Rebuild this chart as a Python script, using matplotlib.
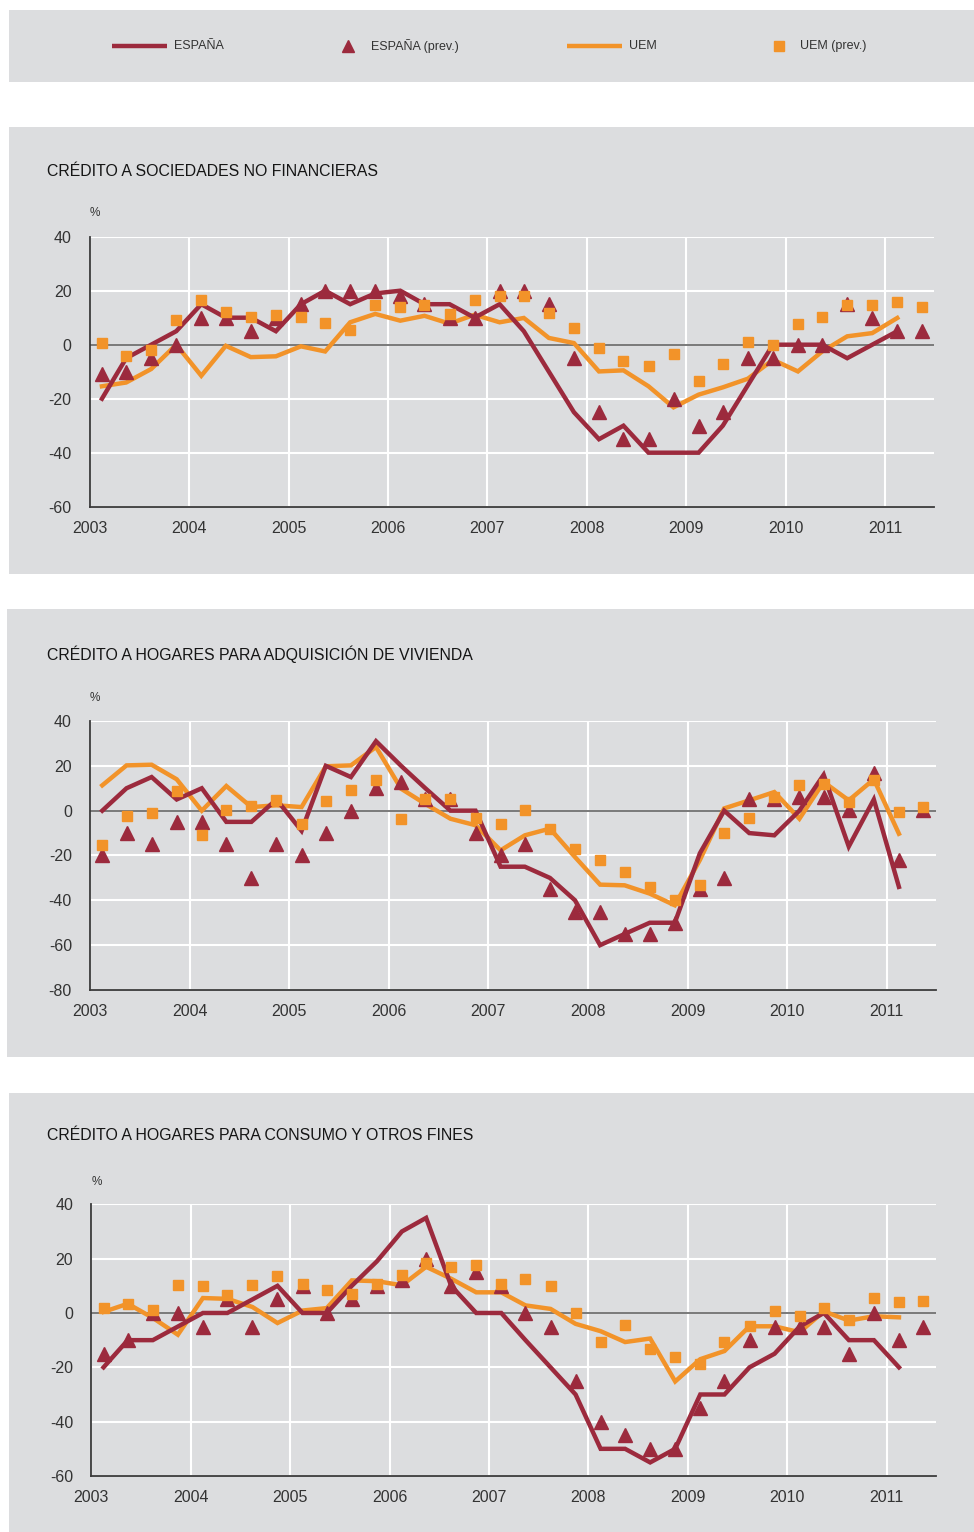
import numpy as np
import pandas as pd
import matplotlib
matplotlib.use("Agg")
from matplotlib import pyplot as plt
from matplotlib.patches import Rectangle
from matplotlib.lines import Line2D
import matplotlib.dates as mdates

plt.rcParams['font.family'] = ['Liberation Sans', 'DejaVu Sans']
plt.rcParams['axes.unicode_minus'] = False

# quarterly dates (mid-quarter points)
dates = pd.date_range("2003-02-15", periods=34, freq=pd.DateOffset(months=3))

# CREDITO A SOCIEDADES NO FINANCIERAS
soc_esp = [-20, -5, 0, 5, 15, 10, 10, 5, 15, 20, 15, 19, 20, 15, 15, 10, 15,
           5, -10, -25, -35, -30, -40, -40, -40, -30, -15, 0, 0, 0, -5, 0, 5]
soc_esp_prev = [-11, -10, -5, 0, 10, 10, 5, 10, 15, 20, 20, 20, 18, 15, 10, 10, 20,
                20, 15, -5, -25, -35, -35, -20, -30, -25, -5, -5, 0, 0, 15, 10, 5, 5]
soc_uem = [-15.4, -14, -9, 0, -11.5, -0.4, -4.6, -4.3, -0.6, -2.5, 8.3, 11.4, 8.9, 10.7, 7.8, 11.1, 8.3,
           9.9, 2.5, 0.6, -9.9, -9.5, -15.4, -23.2, -18.5, -15.8, -12.6, -5.6, -9.9, -2.5, 3.1, 4.3, 9.9]
soc_uem_prev = [0.6, -4.3, -1.9, 9, 16.7, 12, 10.2, 10.9, 10.2, 8, 5.6, 14.6, 13.8, 14.8, 11.5, 16.7, 18.1,
                17.9, 11.7, 6.2, -1.2, -6.2, -7.8, -3.3, -13.6, -7, 1, 0, 7.7, 10.1, 14.8, 14.8, 15.7, 13.8]

# CREDITO A HOGARES PARA ADQUISICION DE VIVIENDA
viv_esp = [0, 10, 15, 5, 10, -5, -5, 5, -9, 20, 15, 31, 20, 10, 0, 0, -25,
           -25, -30, -40, -60, -55, -50, -50, -19, 0, -10, -11, 0, 16, -16, 5, -34]
viv_esp_prev = [-20, -10, -15, -5, -5, -15, -30, -15, -20, -10, 0, 10, 13, 5, 5, -10, -20,
                -15, -35, -45, -45, -55, -55, -50, -35, -30, 5, 5, 6, 6, 0.5, 17, -22, 0.5]
viv_uem = [11.3, 20.2, 20.5, 14, 0, 11, 1.6, 2.4, 1.6, 19.8, 20.2, 28.4, 9.8, 3, -3.6, -6.5, -17.7,
           -11, -8, -20.7, -33, -33.3, -37, -42.2, -22, 1, 4.6, 8.3, -3.6, 12.8, 4.6, 14, -10.3]
viv_uem_prev = [-15.2, -2.4, -1, 8.6, -11, 0.1, 2, 4.6, -6.1, 4.3, 9, 13.5, -3.6, 5, 5, -3.1, -5.8,
                0.1, -8, -17, -21.8, -27.3, -34, -40, -33.3, -10, -3.3, 6, 11.3, 12, 3.7, 13.5, -0.6, 1.6]

# CREDITO A HOGARES PARA CONSUMO Y OTROS FINES
con_esp = [-20, -10, -10, -5, 0, 0, 5, 10, 0, 0, 10, 19, 30, 35, 10, 0, 0,
           -10, -20, -30, -50, -50, -55, -50, -30, -30, -20, -15, -5, 0, -10, -10, -20]
con_esp_prev = [-15, -10, 0, 0, -5, 5, -5, 5, 10, 0, 5, 10, 12, 20, 10, 15, 10,
                0, -5, -25, -40, -45, -50, -50, -35, -25, -10, -5, -5, -5, -15, 0, -10, -5]
con_uem = [0.4, 3.4, -1.8, -8, 5.5, 5.2, 2.2, -3.7, 0.9, 1.8, 12, 11.7, 10.2, 17, 12.6, 7.6, 7.6,
           2.8, 1.5, -4, -6.7, -10.7, -9.4, -25.2, -17, -14, -4.9, -4.9, -7.1, 0.6, -2.8, -1.2, -1.6]
con_uem_prev = [2, 3.3, 1.2, 10.4, 9.8, 6.7, 10.4, 13.5, 10.7, 8.6, 7, 10.7, 13.9, 18.4, 17, 17.5, 10.8,
                12.5, 9.8, 0, -10.7, -4.3, -13.3, -16.3, -18.8, -10.7, -4.9, 0.9, -1.2, 2, -2.5, 5.5, 4, 4.5]

titles = ["CRÉDITO A SOCIEDADES NO FINANCIERAS",
          "CRÉDITO A HOGARES PARA ADQUISICIÓN DE VIVIENDA",
          "CRÉDITO A HOGARES PARA CONSUMO Y OTROS FINES"]
legend_labels = ["ESPAÑA", "ESPAÑA (prev.)", "UEM", "UEM (prev.)"]

RED = "#9c2a3d"
ORANGE = "#f29329"
BG = "#dcdddf"
TXT = "#333333"

W, H = 974, 1532
fig = plt.figure(figsize=(W / 100, H / 100), dpi=100)


def px_box(x0, y0, x1, y1):
    # pixel box (top-left origin) -> figure fraction rect
    return [x0 / W, 1 - y1 / H, (x1 - x0) / W, (y1 - y0) / H]


# grey backgrounds
for (x0, y0, x1, y1) in [(9, 10, 974, 82), (9, 127, 974, 574), (7, 609, 974, 1057), (9, 1093, 974, 1532)]:
    r = px_box(x0, y0, x1, y1)
    fig.patches.append(Rectangle((r[0], r[1]), r[2], r[3], transform=fig.transFigure,
                                 facecolor=BG, edgecolor="none", zorder=-10))

# legend, drawn by hand in a pixel-unit axes
lax = fig.add_axes(px_box(9, 10, 974, 82))
lax.set_xlim(9, 974)
lax.set_ylim(82, 10)
lax.axis("off")
ly = 46
lax.add_line(Line2D([112, 167], [ly, ly], color=RED, lw=3.2, solid_capstyle="butt"))
lax.plot([348], [ly], marker="^", color=RED, ms=8, ls="none")
lax.add_line(Line2D([567, 622], [ly, ly], color=ORANGE, lw=3.2, solid_capstyle="butt"))
lax.plot([779], [ly], marker="s", color=ORANGE, ms=6.5, ls="none")
for xt, lab in zip([174, 371, 629, 800], legend_labels):
    lax.text(xt, ly, lab, fontsize=9, color=TXT, va="center", ha="left")

panels = [
    dict(box=(89.7, 236.7, 934.3, 506.7), ylim=(-60, 40), title_y=171, pct_y=213,
         esp=soc_esp, esp_prev=soc_esp_prev, uem=soc_uem, uem_prev=soc_uem_prev),
    dict(box=(90, 721, 936, 990), ylim=(-80, 40), title_y=654, pct_y=698,
         esp=viv_esp, esp_prev=viv_esp_prev, uem=viv_uem, uem_prev=viv_uem_prev),
    dict(box=(91.3, 1204.3, 936, 1476), ylim=(-60, 40), title_y=1136, pct_y=1182,
         esp=con_esp, esp_prev=con_esp_prev, uem=con_uem, uem_prev=con_uem_prev),
]

for p, title in zip(panels, titles):
    x0, y0, x1, y1 = p["box"]
    ax = fig.add_axes(px_box(x0, y0, x1, y1))
    ax.set_facecolor("none")
    n = len(p["esp"])
    ax.plot(dates[:n], p["uem"], color=ORANGE, lw=3.2, zorder=3, solid_joinstyle="miter")
    ax.plot(dates[:n], p["esp"], color=RED, lw=3.2, zorder=4, solid_joinstyle="miter")
    ax.plot(dates, p["esp_prev"], ls="none", marker="^", ms=9.5, color=RED, zorder=5)
    ax.plot(dates, p["uem_prev"], ls="none", marker="s", ms=6.5, color=ORANGE, zorder=6)

    ax.set_xlim(pd.Timestamp("2003-01-01"), pd.Timestamp("2011-07-01"))
    ax.set_ylim(*p["ylim"])
    ax.set_yticks(np.arange(p["ylim"][0], p["ylim"][1] + 1, 20))
    ax.xaxis.set_major_locator(mdates.YearLocator())
    ax.xaxis.set_major_formatter(mdates.DateFormatter("%Y"))
    ax.grid(True, color="white", lw=1.5, zorder=1)
    ax.axhline(0, color="#6e6e6e", lw=1.3, zorder=2)
    for s in ["top", "right"]:
        ax.spines[s].set_visible(False)
    for s in ["left", "bottom"]:
        ax.spines[s].set_color("#3a3a3a")
        ax.spines[s].set_linewidth(1.3)
        ax.spines[s].set_zorder(7)
    ax.tick_params(length=0, labelsize=11.5, labelcolor=TXT)
    ax.tick_params(axis="y", pad=13)
    ax.tick_params(axis="x", pad=10)

    fig.text(47 / W, 1 - p["title_y"] / H, title, fontsize=11.4, color="#151515",
             va="center", ha="left")
    fig.text(x0 / W, 1 - p["pct_y"] / H, "%", fontsize=8.5, color=TXT, va="center", ha="left")

fig.savefig("out.png", dpi=100, facecolor="white")
